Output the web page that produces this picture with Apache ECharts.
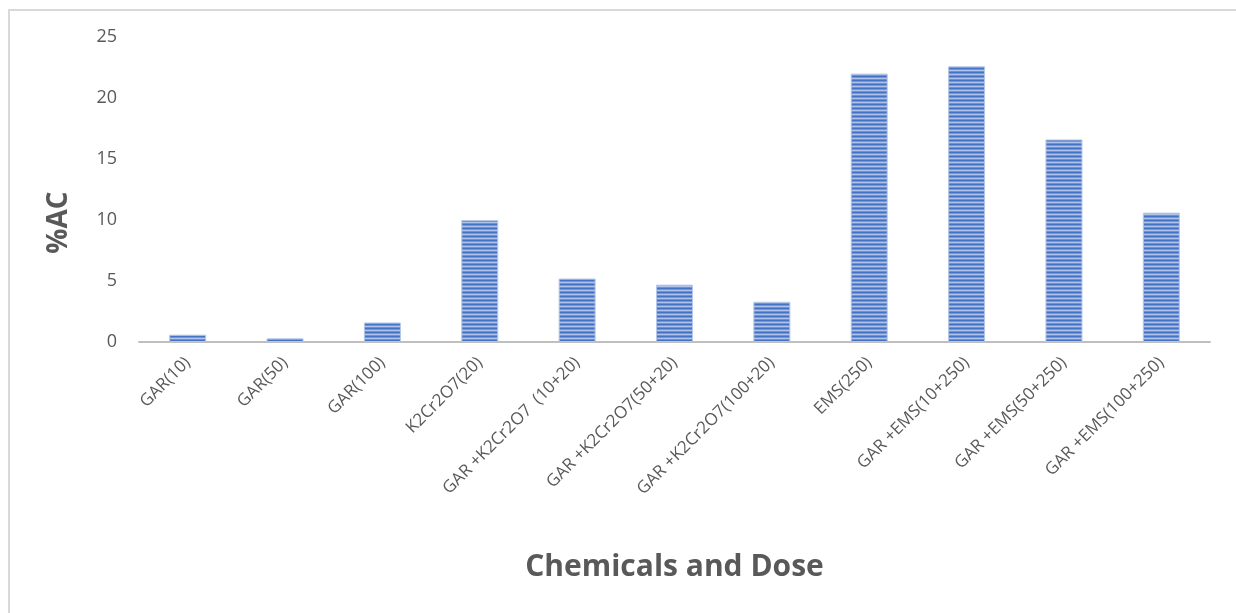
<!DOCTYPE html>
<html>
<head>
<meta charset="utf-8">
<title>%AC by Chemicals and Dose</title>
<script src="https://cdn.jsdelivr.net/npm/echarts@6/dist/echarts.min.js"></script>
<style>
  html, body { margin: 0; padding: 0; background: #ffffff; }
  #chart { width: 1236px; height: 613px; }
</style>
</head>
<body>
<div id="chart"></div>
<script>
// Treatment groups along the x axis
const categories = [
  'GAR(10)',
  'GAR(50)',
  'GAR(100)',
  'K2Cr2O7(20)',
  'GAR +K2Cr2O7  (10+20)',
  'GAR +K2Cr2O7(50+20)',
  'GAR +K2Cr2O7(100+20)',
  'EMS(250)',
  'GAR +EMS(10+250)',
  'GAR +EMS(50+250)',
  'GAR +EMS(100+250)'
];

// %AC for each group
const acValues = [0.6, 0.3, 1.6, 10.0, 5.2, 4.7, 3.3, 22.0, 22.6, 16.6, 10.6];

// Value axis range and step
const yMin = 0;
const yMax = 25;
const yStep = 5;

// Horizontal stripe fill for the bars
function stripePattern() {
  const c = document.createElement('canvas');
  c.width = 4;
  c.height = 4;
  const ctx = c.getContext('2d');
  const rows = ['#4472C4', '#7496D6', '#AFC3EA', '#6F90D2'];
  rows.forEach((col, i) => {
    ctx.fillStyle = col;
    ctx.fillRect(0, i, 4, 1);
  });
  return c;
}

const chart = echarts.init(document.getElementById('chart'), null, { renderer: 'canvas' });

const textGray = '#595959';

chart.setOption({
  backgroundColor: '#ffffff',
  animation: false,
  graphic: [
    {
      type: 'polyline',
      shape: { points: [[9, 613], [9, 10], [1236, 10]] },
      style: { stroke: '#D9D9D9', lineWidth: 2, fill: null },
      silent: true
    }
  ],
  grid: {
    left: 139,
    right: 26,
    top: 37,
    bottom: 271,
    containLabel: false
  },
  xAxis: {
    type: 'category',
    data: categories,
    name: 'Chemicals and Dose',
    nameLocation: 'middle',
    nameGap: 210,
    nameTextStyle: {
      fontFamily: 'Open Sans',
      fontWeight: 'bold',
      fontSize: 30,
      color: textGray,
      verticalAlign: 'top'
    },
    axisLine: { lineStyle: { color: '#BFBFBF', width: 2 } },
    axisTick: { show: false },
    axisLabel: {
      interval: 0,
      rotate: 45,
      margin: 18,
      fontFamily: 'Open Sans',
      fontSize: 17,
      color: textGray
    },
    splitLine: { show: false }
  },
  yAxis: {
    type: 'value',
    min: yMin,
    max: yMax,
    interval: yStep,
    name: '%AC',
    nameLocation: 'middle',
    nameGap: 66,
    nameRotate: 90,
    nameTextStyle: {
      fontFamily: 'Open Sans',
      fontWeight: 'bold',
      fontSize: 28,
      color: textGray,
      padding: [0, 66, 0, 0]
    },
    axisLine: { show: false },
    axisTick: { show: false },
    splitLine: { show: false },
    axisLabel: {
      margin: 22,
      fontFamily: 'Open Sans',
      fontSize: 18,
      color: textGray
    }
  },
  series: [
    {
      type: 'bar',
      data: acValues,
      barWidth: 37,
      itemStyle: {
        color: { image: stripePattern(), repeat: 'repeat' },
        borderColor: '#B4C7E7',
        borderWidth: 1
      }
    }
  ]
});
</script>
</body>
</html>
